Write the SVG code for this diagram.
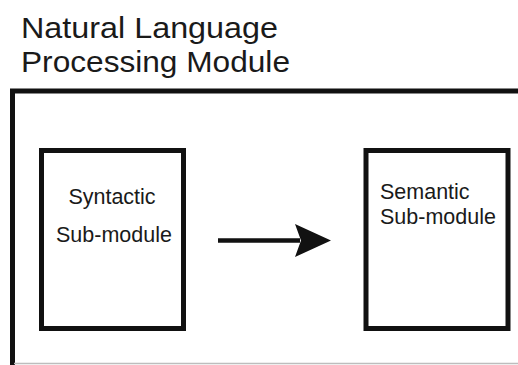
<svg xmlns="http://www.w3.org/2000/svg" width="518" height="365" viewBox="0 0 518 365">
<style>
.t{font-family:"Liberation Sans",Arial,sans-serif;fill:#1a1a1a}
.title{font-size:30px}
.lbl{font-size:21.5px}
.box{fill:#fff;stroke:#111;stroke-width:5}
.frame{fill:none;stroke:#111;stroke-width:5}
</style>
<rect width="518" height="365" fill="#fff"/>
<g id="title">
<text class="t title" x="21" y="38" textLength="257" lengthAdjust="spacingAndGlyphs">Natural Language</text>
<text class="t title" x="21" y="72" textLength="269" lengthAdjust="spacingAndGlyphs">Processing Module</text>
</g>
<g id="module">
<path class="frame" d="M12.5,365 V91 H518"/>
<line x1="14" y1="363.5" x2="518" y2="363.5" stroke="#bdbdbd" stroke-width="1.5"/>
</g>
<g id="syntactic">
<rect class="box" x="41.5" y="150.5" width="142" height="178"/>
<text class="t lbl" x="112" y="204" text-anchor="middle">Syntactic</text>
<text class="t lbl" x="114" y="242" text-anchor="middle">Sub-module</text>
</g>
<g id="semantic">
<rect class="box" x="366" y="150.5" width="142" height="178"/>
<text class="t lbl" x="380" y="199" font-size="21px">Semantic</text>
<text class="t lbl" x="380" y="224" font-size="21px">Sub-module</text>
</g>
<g id="connectors">
<line x1="218" y1="240.5" x2="300" y2="240.5" stroke="#111" stroke-width="4.5"/>
<polygon points="295,224 331,240.5 295,257 301,240.5" fill="#111"/>
</g>
</svg>
